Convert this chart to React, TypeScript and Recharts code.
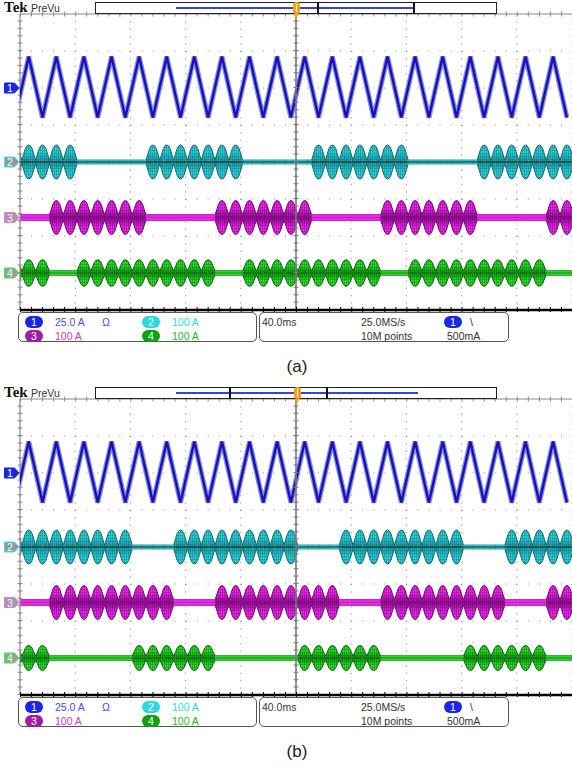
import React from 'react';
import { ComposedChart, Area, Line, XAxis, YAxis, CartesianGrid, ReferenceLine } from 'recharts';

// time runs in screen divisions (0..10); one slot = half a cycle of ch1 (0.25 div)
const SLOT0 = 0.033 - 0.25; // slot -1 starts just left of the screen
const SLOT_W = 0.25;

const lobeProfile = [0, 0.45, 0.78, 0.95, 1, 0.95, 0.78, 0.45];

// ch1 triangle: extreme of each half cycle (div from its marker), slots -1..39
const ch1Extremes = [
  -0.8, 0.85, -0.8, 0.85, -0.8, 0.85, -0.8, 0.85, -0.8, 0.85,
  -0.8, 0.85, -0.8, 0.85, -0.8, 0.85, -0.8, 0.85, -0.8, 0.85,
  -0.8, 0.85, -0.8, 0.85, -0.8, 0.85, -0.8, 0.85, -0.8, 0.85,
  -0.8, 0.85, -0.8, 0.85, -0.8, 0.85, -0.8, 0.85, -0.8, 0.85,
  -0.8,
];

// burst lobes on (1) / off (0) per slot, slots -1..39
const ch2a = [1, 1, 1, 1, 1, 0, 0, 0, 0, 0, 1, 1, 1, 1, 1, 1, 1, 0, 0, 0, 0, 0, 1, 1, 1, 1, 1, 1, 1, 0, 0, 0, 0, 0, 1, 1, 1, 1, 1, 1, 1];
const ch3a = [0, 0, 0, 1, 1, 1, 1, 1, 1, 1, 0, 0, 0, 0, 0, 1, 1, 1, 1, 1, 1, 1, 0, 0, 0, 0, 0, 1, 1, 1, 1, 1, 1, 1, 0, 0, 0, 0, 0, 1, 1];
const ch4a = [1, 1, 1, 0, 0, 1, 1, 1, 1, 1, 1, 1, 1, 1, 1, 0, 0, 1, 1, 1, 1, 1, 1, 1, 1, 1, 1, 0, 0, 1, 1, 1, 1, 1, 1, 1, 1, 1, 1, 0, 0];

const ch2b = [1, 1, 1, 1, 1, 1, 1, 1, 1, 0, 0, 0, 1, 1, 1, 1, 1, 1, 1, 1, 1, 0, 0, 0, 1, 1, 1, 1, 1, 1, 1, 1, 1, 0, 0, 0, 1, 1, 1, 1, 1];
const ch3b = [0, 0, 0, 1, 1, 1, 1, 1, 1, 1, 1, 1, 0, 0, 0, 1, 1, 1, 1, 1, 1, 1, 1, 1, 0, 0, 0, 1, 1, 1, 1, 1, 1, 1, 1, 1, 0, 0, 0, 1, 1];
const ch4b = [1, 1, 1, 0, 0, 0, 0, 0, 0, 1, 1, 1, 1, 1, 1, 0, 0, 0, 0, 0, 0, 1, 1, 1, 1, 1, 1, 0, 0, 0, 0, 0, 0, 1, 1, 1, 1, 1, 1, 0, 0];

const xMajor = [0, 1, 2, 3, 4, 5, 6, 7, 8, 9, 10];
const yGrid = [1, 2, 3, 5, 6, 7];
const markerTicks = [6, 4, 2.5, 1];

const CH1_OFFSET = 6;

type Burst = {
  key: string;
  flags: number[];
  amp: number;
  base: number;
  offset: number;
  bright: string;
  band: string;
  mid: string;
  edge: string;
  center: string;
  centerOpacity: number;
};

const burstStyle = {
  c2: { offset: 4, amp: 0.46, base: 0.05, bright: '#2ccfd6', band: '#2ccfd6', mid: '#14959e', edge: '#0c5f66', center: '#061818', centerOpacity: 0.9 },
  c3: { offset: 2.5, amp: 0.46, base: 0.08, bright: '#e828e8', band: '#e42ae4', mid: '#8a0e8a', edge: '#6a006a', center: '#8a008a', centerOpacity: 0.3 },
  c4: { offset: 1, amp: 0.36, base: 0.06, bright: '#28df28', band: '#2cd42c', mid: '#10900f', edge: '#0a550a', center: '#0a600a', centerOpacity: 0.55 },
};

function buildRows(ext: number[], bursts: Burst[]) {
  const rows: Record<string, any>[] = [];
  const n = lobeProfile.length;
  for (let k = 0; k < ext.length; k++) {
    const s = SLOT0 + k * SLOT_W;
    lobeProfile.forEach((p, j) => {
      const row: Record<string, any> = { t: s + (j * SLOT_W) / n };
      row.c1 = j === n / 2 ? CH1_OFFSET + ext[k] : null;
      bursts.forEach((b) => {
        const h = Math.max(b.base, b.flags[k] * b.amp * p);
        row[b.key] = [b.offset - h, b.offset + h];
        const off = b.flags[k] === 0 || (j === 0 && k > 0 && b.flags[k - 1] === 0);
        row[`${b.key}off`] = off ? [b.offset - b.base, b.offset + b.base] : null;
      });
      rows.push(row);
    });
  }
  const last = ext.length - 1;
  const end: Record<string, any> = { t: SLOT0 + ext.length * SLOT_W, c1: null };
  bursts.forEach((b) => {
    end[b.key] = [b.offset - b.base, b.offset + b.base];
    end[`${b.key}off`] = b.flags[last] === 0 ? [b.offset - b.base, b.offset + b.base] : null;
  });
  rows.push(end);
  return rows;
}

const badges: { label: string; fill: string; stroke: string; text: string }[] = [
  { label: '1', fill: '#1a26e6', stroke: '#1a26e6', text: '#ffffff' },
  { label: '2', fill: '#8e9c9c', stroke: '#3fe0e6', text: '#e8ffff' },
  { label: '3', fill: '#a49aa4', stroke: '#f070f0', text: '#ffe8ff' },
  { label: '4', fill: '#8ea88e', stroke: '#50e050', text: '#eaffea' },
];

function Badge(props: any) {
  const { y, payload } = props;
  const i = markerTicks.indexOf(Number(payload && payload.value));
  const b = badges[i];
  if (!b || y == null) return <g />;
  return (
    <g>
      <path d={`M4.5 ${y - 5} h10 l4.5 5 l-4.5 5 h-10 z`} fill={b.fill} stroke={b.stroke} strokeWidth={1} />
      <text x={10} y={y + 4} textAnchor="middle" fontSize={10.5} fontFamily="Liberation Sans, Arial, sans-serif" fill={b.text}>
        {b.label}
      </text>
    </g>
  );
}

type Header = { line: [number, number]; brackets: [number, number]; trigger: number };

const panels = [
  {
    id: 'a',
    top: 0,
    caption: '(a)',
    ext: ch1Extremes,
    bursts: [
      { key: 'c2', flags: ch2a, ...burstStyle.c2 },
      { key: 'c3', flags: ch3a, ...burstStyle.c3 },
      { key: 'c4', flags: ch4a, ...burstStyle.c4 },
    ],
    header: { line: [176, 413], brackets: [317, 414], trigger: 296 } as Header,
  },
  {
    id: 'b',
    top: 385,
    caption: '(b)',
    ext: ch1Extremes,
    bursts: [
      { key: 'c2', flags: ch2b, ...burstStyle.c2 },
      { key: 'c3', flags: ch3b, ...burstStyle.c3 },
      { key: 'c4', flags: ch4b, ...burstStyle.c4, amp: 0.34 },
    ],
    header: { line: [176, 418], brackets: [229, 327], trigger: 297 } as Header,
  },
];

const font = 'Liberation Sans, Arial, sans-serif';

function Pill({ left, top, color, label }: { left: number; top: number; color: string; label: string }) {
  return (
    <div
      style={{
        position: 'absolute', left, top, width: 18, height: 12, borderRadius: 6, background: color,
        color: '#fff', fontSize: 10.5, lineHeight: '12px', textAlign: 'center', fontFamily: font,
      }}
    >
      {label}
    </div>
  );
}

function Txt({ left, top, color, children }: { left: number; top: number; color: string; children: React.ReactNode }) {
  return (
    <div style={{ position: 'absolute', left, top, color, fontSize: 10.5, lineHeight: '12px', fontFamily: font, whiteSpace: 'nowrap' }}>
      {children}
    </div>
  );
}

function ScopeHeader({ h }: { h: Header }) {
  return (
    <>
      <div style={{ position: 'absolute', left: 4, top: 0, fontFamily: 'Liberation Serif, serif', fontWeight: 'bold', fontSize: 15, lineHeight: '15px', color: '#111' }}>
        Tek
      </div>
      <div style={{ position: 'absolute', left: 31, top: 2, fontFamily: font, fontSize: 10.5, lineHeight: '12px', color: '#333' }}>PreVu</div>
      <div style={{ position: 'absolute', left: 95, top: 2, width: 400, height: 10, border: '1px solid #222', background: '#fff' }} />
      <div style={{ position: 'absolute', left: h.line[0], top: 7, width: h.line[1] - h.line[0], height: 1.5, background: '#3442e6', zIndex: 2 }} />
      <div style={{ position: 'absolute', left: h.brackets[0], top: 2, width: 3, height: 10, borderLeft: '2px solid #111', borderTop: '1px solid #111', borderBottom: '1px solid #111', zIndex: 3 }} />
      <div style={{ position: 'absolute', left: h.brackets[1] - 4, top: 2, width: 3, height: 10, borderRight: '2px solid #111', borderTop: '1px solid #111', borderBottom: '1px solid #111', zIndex: 3 }} />
      <div style={{ position: 'absolute', left: h.trigger - 3.5, top: 2, width: 7, height: 12, borderRadius: 3, background: '#f4a41c', zIndex: 4 }} />
      <div style={{ position: 'absolute', left: h.trigger - 0.5, top: 4, width: 1, height: 8, background: '#fff3d8', zIndex: 5 }} />
      <div style={{ position: 'absolute', left: h.trigger - 3.5, top: 14, width: 0, height: 0, borderLeft: '3.5px solid transparent', borderRight: '3.5px solid transparent', borderTop: '4px solid #f4a41c', zIndex: 4 }} />
    </>
  );
}

function InfoBoxes() {
  const box: React.CSSProperties = { position: 'absolute', top: 312, height: 28, border: '1px solid #555', borderRadius: 5 };
  return (
    <>
      <div style={{ ...box, left: 18, width: 237 }} />
      <div style={{ ...box, left: 259, width: 248 }} />
      <Pill left={25} top={316} color="#1a26e6" label="1" />
      <Txt left={55} top={316} color="#4a4af2">25.0 A</Txt>
      <Txt left={102} top={316} color="#4a4af2">Ω</Txt>
      <Pill left={142} top={316} color="#2ed6de" label="2" />
      <Txt left={172} top={316} color="#34d4dc">100 A</Txt>
      <Pill left={25} top={330} color="#a01ca8" label="3" />
      <Txt left={55} top={330} color="#c43ccc">100 A</Txt>
      <Pill left={142} top={330} color="#10a010" label="4" />
      <Txt left={172} top={330} color="#22b822">100 A</Txt>
      <Txt left={262} top={316} color="#333">40.0ms</Txt>
      <Txt left={361} top={316} color="#333">25.0MS/s</Txt>
      <Pill left={444} top={316} color="#1a26e6" label="1" />
      <Txt left={470} top={316} color="#333">\</Txt>
      <Txt left={361} top={330} color="#333">10M points</Txt>
      <Txt left={447} top={330} color="#333">500mA</Txt>
    </>
  );
}

function Panel({ p }: { p: (typeof panels)[number] }) {
  const rows = buildRows(p.ext, p.bursts as Burst[]);
  return (
    <div style={{ position: 'absolute', left: 0, top: p.top, width: 572, height: 384 }}>
      <div style={{ position: 'absolute', left: 0, top: 0 }}>
        <ComposedChart width={574} height={312} data={rows} margin={{ top: 14, right: 2, bottom: 2, left: 0 }}>
          <defs>
            {p.bursts.map((b) => (
              <linearGradient key={b.key} id={`g-${p.id}-${b.key}`} x1="0" y1="0" x2="0" y2="1">
                <stop offset="0%" stopColor={b.bright} />
                <stop offset="22%" stopColor={b.bright} />
                <stop offset="50%" stopColor={b.mid} />
                <stop offset="78%" stopColor={b.bright} />
                <stop offset="100%" stopColor={b.bright} />
              </linearGradient>
            ))}
            {p.bursts.map((b) => (
              <pattern key={b.key} id={`h-${p.id}-${b.key}`} width={2} height={3} patternUnits="userSpaceOnUse">
                <rect x={0} y={0} width={1} height={3} fill={b.edge} opacity={0.3} />
                <rect x={0} y={0} width={2} height={1} fill={b.edge} opacity={0.25} />
              </pattern>
            ))}
          </defs>
          <XAxis dataKey="t" type="number" domain={[0, 10]} ticks={xMajor} allowDataOverflow hide />
          <YAxis
            type="number"
            domain={[0, 8]}
            ticks={markerTicks}
            interval={0}
            allowDataOverflow
            width={20}
            axisLine={false}
            tickLine={false}
            tick={Badge}
          />
          <CartesianGrid horizontal={false} stroke="#8e8e8e" strokeWidth={1.2} strokeDasharray="1 6.4" />
          {yGrid.map((y) => (
            <ReferenceLine key={`gy${y}`} y={y} stroke="#8e8e8e" strokeWidth={1.2} strokeDasharray="1 10.04" />
          ))}
          {/* frame and centre crosshair with minor ticks */}
          <ReferenceLine x={0} stroke="#8a8a8a" strokeWidth={1.2} />
          <ReferenceLine x={0} stroke="#8a8a8a" strokeWidth={5} strokeDasharray="1 6.4" />
          <ReferenceLine y={8} stroke="#8a8a8a" strokeWidth={1.2} />
          <ReferenceLine y={8} stroke="#8a8a8a" strokeWidth={5} strokeDasharray="1 10.04" />
          <ReferenceLine y={4} stroke="#8a8a8a" strokeWidth={5} strokeDasharray="1 10.04" />
          {p.bursts.map((b) => (
            <Area
              key={`${b.key}-fill`}
              dataKey={b.key}
              type="linear"
              stroke={b.edge}
              strokeWidth={0.9}
              fill={`url(#g-${p.id}-${b.key})`}
              fillOpacity={1}
              dot={false}
              activeDot={false}
              isAnimationActive={false}
            />
          ))}
          {p.bursts.map((b) => (
            <Area
              key={`${b.key}-hatch`}
              dataKey={b.key}
              type="linear"
              stroke="none"
              fill={`url(#h-${p.id}-${b.key})`}
              fillOpacity={1}
              dot={false}
              activeDot={false}
              isAnimationActive={false}
            />
          ))}
          {p.bursts.map((b) => (
            <Area
              key={`${b.key}-off`}
              dataKey={`${b.key}off`}
              type="linear"
              stroke={b.band}
              strokeWidth={0.6}
              fill={b.band}
              fillOpacity={1}
              dot={false}
              activeDot={false}
              isAnimationActive={false}
            />
          ))}
          {p.bursts.map((b) => (
            <ReferenceLine key={`${b.key}-c`} y={b.offset} stroke={b.center} strokeWidth={1} strokeOpacity={b.centerOpacity} />
          ))}
          <Line dataKey="c1" type="linear" connectNulls stroke="#8c8ce8" strokeWidth={5} dot={false} activeDot={false} isAnimationActive={false} />
          <Line dataKey="c1" type="linear" connectNulls stroke="#1414b4" strokeWidth={2.4} dot={false} activeDot={false} isAnimationActive={false} />
          <ReferenceLine x={5} stroke="#7a7a7a" strokeWidth={1.6} />
          <ReferenceLine x={5} stroke="#7a7a7a" strokeWidth={5} strokeDasharray="1 6.4" />
          <ReferenceLine y={0} stroke="#000" strokeWidth={6} strokeDasharray="1 10.04" />
          <ReferenceLine y={0} stroke="#000" strokeWidth={2.5} />
        </ComposedChart>
      </div>
      <ScopeHeader h={p.header} />
      <InfoBoxes />
      <div style={{ position: 'absolute', left: 247, width: 100, top: 357, textAlign: 'center', fontFamily: font, fontSize: 17, lineHeight: '20px', color: '#222' }}>
        {p.caption}
      </div>
    </div>
  );
}

export default function App() {
  return (
    <div style={{ position: 'absolute', left: 0, top: 0, width: 572, height: 769, overflow: 'hidden', background: '#fff' }}>
      {panels.map((p) => (
        <Panel key={p.id} p={p} />
      ))}
    </div>
  );
}
